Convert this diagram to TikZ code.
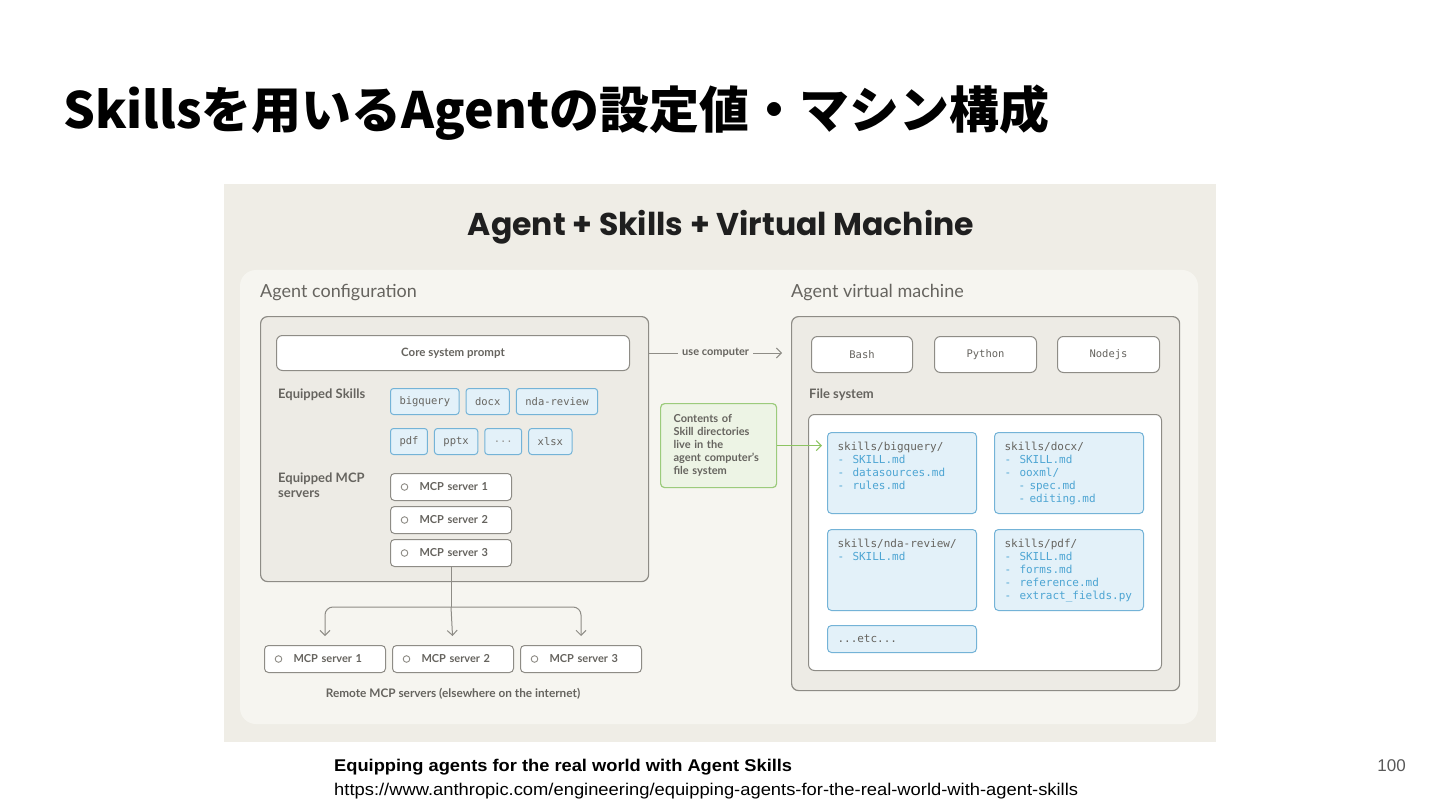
\documentclass[tikz,border=0pt]{standalone}
\usepackage{fontspec}
\usepackage{graphicx}
\setmainfont{Lato}
\setmonofont{DejaVu Sans Mono}
\newfontfamily\cjk{Noto Sans CJK JP}
\newfontfamily\arial{Liberation Sans}
\newfontfamily\titlefont{Poppins}
\usetikzlibrary{arrows.meta, positioning}

\definecolor{pagebg}{HTML}{EFEDE6}
\definecolor{panelbg}{HTML}{F6F5F0}
\definecolor{boxbg}{HTML}{EDEBE5}
\definecolor{boxline}{HTML}{8E8C86}
\definecolor{labelgray}{HTML}{66645F}
\definecolor{chipbg}{HTML}{E3F1F9}
\definecolor{chipline}{HTML}{74B3D7}
\definecolor{fsblue}{HTML}{4DA5D3}
\definecolor{notebg}{HTML}{EDF4E5}
\definecolor{noteline}{HTML}{9CCB7C}
\definecolor{notearrow}{HTML}{8DC462}

% file system entries
\newcommand{\fsitem}[1]{\textcolor{fsblue}{\makebox[15pt][l]{-}#1}}
\newcommand{\fssub}[1]{\hspace*{14pt}\textcolor{fsblue}{\makebox[11pt][l]{-}#1}}

\begin{document}
\begin{tikzpicture}[
x=1pt, y=-1pt,
node distance=6pt,
frame/.style={draw=boxline, line width=1.2pt, rounded corners=7pt, fill=boxbg, anchor=north west},
whitebox/.style={draw=boxline, line width=1pt, rounded corners=6pt, fill=white, anchor=north west,
  text=labelgray},
chip/.style={draw=chipline, line width=1pt, rounded corners=3pt, fill=chipbg, minimum height=26pt,
  inner xsep=9pt, font=\ttfamily\fontsize{10.5}{12}\selectfont, text=labelgray},
mcp/.style={draw=boxline, line width=1pt, rounded corners=4pt, fill=white, minimum height=27pt,
  text width=107pt, inner xsep=7pt, align=left, text=labelgray,
  font=\bfseries\fontsize{11}{13}\selectfont,
  path picture={\draw[boxline, line width=0.9pt] ([xshift=14pt]path picture bounding box.west) circle (3.3pt);}},
dirbox/.style={draw=chipline, line width=1pt, rounded corners=4pt, fill=chipbg, anchor=north west,
  inner xsep=10pt, inner ysep=10pt, minimum width=149pt, text=labelgray,
  font=\ttfamily\fontsize{11}{12.8}\selectfont},
heading/.style={anchor=west, inner sep=0pt, text=labelgray, font=\fontsize{18}{22}\selectfont},
sublabel/.style={anchor=west, inner sep=0pt, align=left, text=labelgray,
  font=\bfseries\fontsize{13}{15}\selectfont},
arr/.style={-{Straight Barb[length=5pt, width=10pt]}, draw=boxline, line width=1pt}
]

\useasboundingbox (0,0) rectangle (1440,810);
\fill[white] (0,0) rectangle (1440,810);

% slide title
\node[anchor=west, inner sep=0pt, font=\cjk\bfseries\fontsize{50}{58}\selectfont] (slidetitle) at (63,113)
  {Skillsを用いるAgentの設定値・マシン構成};

% picture panels
\fill[pagebg] (224,184) rectangle (1216,742);
\fill[panelbg, rounded corners=16pt] (240,270) rectangle (1198,724);

\node[inner sep=0pt, text=black!88, font=\titlefont\bfseries\fontsize{31.5}{36}\selectfont] (title) at (721,227)
  {Agent + Skills + Virtual Machine};

% agent configuration
\node[heading] (cfglabel) at (260,293) {Agent configuration};
\node[frame, minimum width=388pt, minimum height=265pt] (cfg) at (260,316) {};
\node[whitebox, minimum width=353pt, minimum height=35pt, font=\bfseries\fontsize{11.5}{13}\selectfont]
  (core) at (276,335) {Core system prompt};

\node[sublabel] (skilllabel) at (278,395) {Equipped Skills};
\node[chip, anchor=north west] (bq) at (390,388) {bigquery};
\node[chip, right=of bq] (docx) {docx};
\node[chip, right=of docx] (nda) {nda-review};
\node[chip, anchor=north west] (pdf) at (390,428) {pdf};
\node[chip, right=of pdf] (pptx) {pptx};
\node[chip, right=of pptx] (more) {\textcolor{labelgray!70}{...}};
\node[chip, right=of more] (xlsx) {xlsx};

\node[sublabel, anchor=north west] (mcplabel) at (278,473) {Equipped MCP\\servers};
\node[mcp, anchor=north west] (m1) at (390,473) {\hspace*{22pt}MCP server 1};
\node[mcp, below=5pt of m1] (m2) {\hspace*{22pt}MCP server 2};
\node[mcp, below=5pt of m2] (m3) {\hspace*{22pt}MCP server 3};

% remote servers
\node[mcp, anchor=north west] (r1) at (264,645) {\hspace*{22pt}MCP server 1};
\node[mcp, right=6pt of r1] (r2) {\hspace*{22pt}MCP server 2};
\node[mcp, right=6pt of r2] (r3) {\hspace*{22pt}MCP server 3};
\node[text=labelgray, font=\bfseries\fontsize{11.8}{13}\selectfont] (remotelabel) at (453,694)
  {Remote MCP servers (elsewhere on the internet)};

\coordinate (split) at ([yshift=-40pt]m3.south);
\draw[boxline, line width=1pt] (m3.south) -- (split);
\draw[arr, shorten >=9pt] (split) -- (r2.north);
\draw[arr, rounded corners=8pt, shorten >=9pt] (split) -| (r1.north);
\draw[arr, rounded corners=8pt, shorten >=9pt] (split) -| (r3.north);

% agent virtual machine
\node[heading] (vmlabel) at (791,293) {Agent virtual machine};
\node[frame, minimum width=388pt, minimum height=374pt] (vm) at (791,316) {};
\node[whitebox, minimum width=101pt, minimum height=36pt, font=\ttfamily\fontsize{10.5}{12}\selectfont]
  (bash) at (811,336) {Bash};
\node[whitebox, minimum width=102pt, minimum height=36pt, font=\ttfamily\fontsize{10.5}{12}\selectfont]
  (python) at (934,336) {Python};
\node[whitebox, minimum width=102pt, minimum height=36pt, font=\ttfamily\fontsize{10.5}{12}\selectfont]
  (nodejs) at (1057,336) {Nodejs};

\node[sublabel, font=\bfseries\fontsize{13}{15}\selectfont] (fslabel) at (809,395) {File system};
\node[whitebox, minimum width=353pt, minimum height=256pt] (fs) at (808,414) {};

\node[dirbox] (fsbq) at (827,432) {\parbox[t][61pt][t]{129pt}{skills/bigquery/\\
  \fsitem{SKILL.md}\\ \fsitem{datasources.md}\\ \fsitem{rules.md}}};
\node[dirbox] (fsdocx) at (994,432) {\parbox[t][61pt][t]{129pt}{skills/docx/\\
  \fsitem{SKILL.md}\\ \fsitem{ooxml/}\\ \fssub{spec.md}\\ \fssub{editing.md}}};
\node[dirbox] (fsnda) at (827,529) {\parbox[t][61pt][t]{129pt}{skills/nda-review/\\
  \fsitem{SKILL.md}}};
\node[dirbox] (fspdf) at (994,529) {\parbox[t][61pt][t]{129pt}{skills/pdf/\\
  \fsitem{SKILL.md}\\ \fsitem{forms.md}\\ \fsitem{reference.md}\\ \fsitem{extract\_fields.py}}};
\node[dirbox, inner ysep=0pt, minimum height=27pt, text width=129pt] (fsetc) at (827,625) {...etc...};

% connectors between the two halves
\draw[arr] (cfg.east |- core) -- node[fill=panelbg, inner xsep=4pt, text=labelgray,
  font=\bfseries\fontsize{11}{12}\selectfont] (usecomp) {use computer} ([xshift=-9pt]vm.west |- core);

\node[draw=noteline, line width=1.2pt, rounded corners=4pt, fill=notebg, anchor=north west,
  minimum height=84pt, text width=90pt, inner xsep=13pt, align=left, text=labelgray,
  font=\bfseries\fontsize{11}{13}\selectfont] (note) at (660,403)
  {Contents of\\Skill directories\\live in the\\agent computer's\\file system};
\draw[arr, draw=notearrow] (note.east) -- ([xshift=-5pt]note.east -| fsbq.west);

% source
\node[anchor=west, inner sep=0pt, font=\arial\bfseries\fontsize{17}{20}\selectfont] (srctitle) at (334,767)
  {\scalebox{1.075}[1]{Equipping agents for the real world with Agent Skills}};
\node[anchor=west, inner sep=0pt, font=\arial\fontsize{17}{20}\selectfont] (srcurl) at (334,791)
  {\scalebox{1.08}[1]{https://www.anthropic.com/engineering/equipping-agents-for-the-real-world-with-agent-skills}};
\node[anchor=east, inner sep=0pt, text=black!65, font=\arial\fontsize{17}{20}\selectfont] (pageno) at (1406,766) {100};

\end{tikzpicture}
\end{document}
